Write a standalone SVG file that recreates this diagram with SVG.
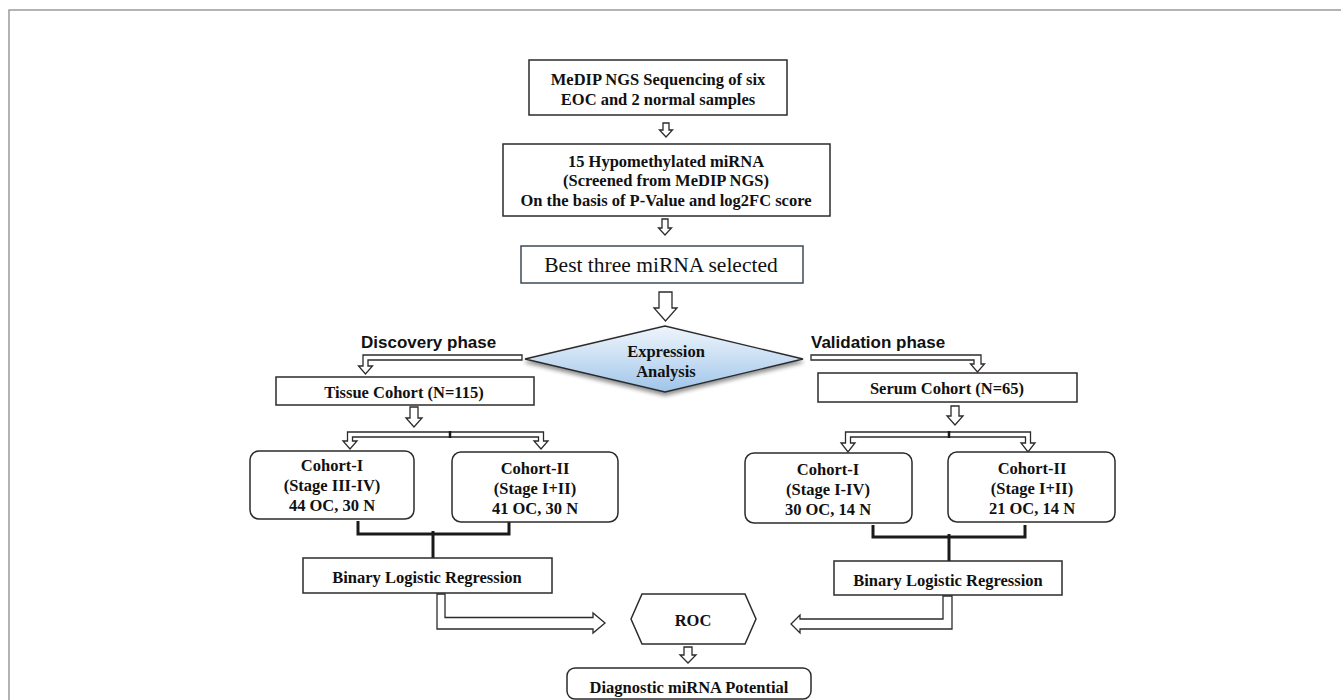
<svg xmlns="http://www.w3.org/2000/svg" width="1341" height="700" viewBox="0 0 1341 700">
<defs>
<linearGradient id="dg" x1="0" y1="0" x2="0" y2="1">
<stop offset="0" stop-color="#eef5fc"/>
<stop offset="0.5" stop-color="#c9def3"/>
<stop offset="1" stop-color="#9fc4ea"/>
</linearGradient>
<filter id="sh" x="-10%" y="-20%" width="120%" height="150%">
<feGaussianBlur in="SourceAlpha" stdDeviation="2"/>
<feOffset dx="0" dy="3" result="b"/>
<feComponentTransfer><feFuncA type="linear" slope="0.45"/></feComponentTransfer>
<feMerge><feMergeNode/><feMergeNode in="SourceGraphic"/></feMerge>
</filter>
</defs>
<style>
.box{fill:#fff;stroke:#2b2b2b;stroke-width:1.5}
.t{font-family:"Liberation Serif","Times New Roman",serif;font-weight:bold;font-size:16.5px;fill:#111;text-anchor:middle;dominant-baseline:central}
.tn{font-family:"Liberation Serif","Times New Roman",serif;font-size:21.5px;fill:#111;text-anchor:middle;dominant-baseline:central}
.lab{font-family:"Liberation Sans",Arial,sans-serif;font-weight:bold;font-size:17px;fill:#111;dominant-baseline:central}
.ha{fill:#fff;stroke:#2b2b2b;stroke-width:1.3;stroke-linejoin:miter}
.br{fill:none;stroke:#1a1a1a;stroke-width:3}
</style>
<rect x="0" y="0" width="1341" height="700" fill="#fff"/>
<path d="M9,700 L9,10 L1341,10" fill="none" stroke="#9a9a9a" stroke-width="1.5"/>

<g id="connectors">
<path class="ha" d="M663,123 L669,123 L669,130 L672.5,130 L666,137 L659.5,130 L663,130 Z"/>
<path class="ha" d="M662,219 L668,219 L668,228 L671.5,228 L665,235 L658.5,228 L662,228 Z"/>
<path class="ha" d="M659,292 L672,292 L672,308 L677,308 L665.5,321 L654,308 L659,308 Z"/>
<path class="ha" d="M522,355 L363,355 L363,366 L358.5,366 L365.5,374 L372.5,366 L368,366 L368,360 L522,360 Z"/>
<path class="ha" d="M811,355 L981,355 L981,364 L984.5,364 L977.5,372 L970.5,364 L974,364 L974,360 L811,360 Z"/>
<path class="ha" d="M410,407 L418,407 L418,418 L422,418 L414,427 L406,418 L410,418 Z"/>
<path class="ha" d="M951,406 L959,406 L959,416 L963,416 L955,425 L947,416 L951,416 Z"/>
<path class="ha" d="M347.5,432 L543.5,432 L543.5,441 L548,441 L541,449 L534,441 L538.5,441 L538.5,437 L352.5,437 L352.5,441 L357,441 L350,449 L343,441 L347.5,441 Z"/>
<line x1="450" y1="431" x2="450" y2="438" stroke="#1a1a1a" stroke-width="2.5"/>
<path class="ha" d="M845.5,432 L1030.5,432 L1030.5,443 L1035,443 L1028,452 L1021,443 L1025.5,443 L1025.5,437 L850.5,437 L850.5,443 L855,443 L848,452 L841,443 L845.5,443 Z"/>
<line x1="949" y1="431" x2="949" y2="438" stroke="#1a1a1a" stroke-width="2.5"/>
<path class="br" d="M358,521 L358,534 L509,534 L509,521"/>
<path class="br" d="M433,531 L433,558"/>
<path class="br" d="M873,525 L873,537 L1025,537 L1025,525"/>
<path class="br" d="M949,534 L949,561"/>
<path class="ha" d="M437,594 L445,594 L445,617.5 L593,617.5 L593,613 L605,623 L593,633 L593,629 L437,629 Z"/>
<path class="ha" d="M952,596 L952,629 L800,629 L800,633 L791,624 L800,615 L800,619 L943,619 L943,596 Z"/>
<path class="ha" d="M684,647 L692,647 L692,655 L696,655 L688,663 L680,655 L684,655 Z"/>
</g>

<g id="n1">
<rect class="box" x="529" y="60" width="258" height="55"/>
<text class="t" x="658" y="79">MeDIP NGS Sequencing of six</text>
<text class="t" x="658" y="99">EOC and 2 normal samples</text>
</g>
<g id="n2">
<rect class="box" x="503" y="144" width="327" height="72"/>
<text class="t" x="666" y="161">15 Hypomethylated miRNA</text>
<text class="t" x="666" y="180">(Screened from MeDIP NGS)</text>
<text class="t" x="666" y="200">On the basis of P-Value and log2FC score</text>
</g>
<g id="n3">
<rect x="521" y="246" width="282" height="37" fill="#fff" stroke="#3c4a58" stroke-width="1.5"/>
<text class="tn" x="661" y="265">Best three miRNA selected</text>
</g>
<g id="n4">
<polygon points="525,359 665,326 803,359 665,392" fill="url(#dg)" stroke="#2b2b2b" stroke-width="1.3" filter="url(#sh)"/>
<text class="t" x="666" y="351">Expression</text>
<text class="t" x="666" y="371">Analysis</text>
</g>
<g id="lbl-discovery"><text class="lab" x="361" y="342">Discovery phase</text></g>
<g id="lbl-validation"><text class="lab" x="811" y="342">Validation phase</text></g>
<g id="n5">
<rect class="box" x="276" y="377" width="258" height="28"/>
<text class="t" x="404" y="392">Tissue Cohort (N=115)</text>
</g>
<g id="n6">
<rect class="box" x="818" y="373" width="259" height="29"/>
<text class="t" x="947" y="388">Serum Cohort (N=65)</text>
</g>
<g id="n7">
<rect class="box" x="250" y="451" width="164" height="68" rx="9"/>
<text class="t" x="332" y="465">Cohort-I</text>
<text class="t" x="332" y="485">(Stage III-IV)</text>
<text class="t" x="332" y="505">44 OC, 30 N</text>
</g>
<g id="n8">
<rect class="box" x="452" y="452" width="166" height="70" rx="9"/>
<text class="t" x="535" y="468">Cohort-II</text>
<text class="t" x="535" y="488">(Stage I+II)</text>
<text class="t" x="535" y="508">41 OC, 30 N</text>
</g>
<g id="n9">
<rect class="box" x="745" y="453" width="167" height="70" rx="9"/>
<text class="t" x="828" y="469">Cohort-I</text>
<text class="t" x="828" y="489">(Stage I-IV)</text>
<text class="t" x="828" y="509">30 OC, 14 N</text>
</g>
<g id="n10">
<rect class="box" x="948" y="452" width="167" height="70" rx="9"/>
<text class="t" x="1032" y="468">Cohort-II</text>
<text class="t" x="1032" y="488">(Stage I+II)</text>
<text class="t" x="1032" y="508">21 OC, 14 N</text>
</g>
<g id="n11">
<rect class="box" x="303" y="558" width="249" height="35"/>
<text class="t" x="427" y="577">Binary Logistic Regression</text>
</g>
<g id="n12">
<rect class="box" x="834" y="561" width="228" height="34"/>
<text class="t" x="948" y="580">Binary Logistic Regression</text>
</g>
<g id="n13">
<polygon class="box" points="631,619 642,594 745,594 756,619 745,644 642,644"/>
<text class="t" x="693" y="620">ROC</text>
</g>
<g id="n14">
<rect class="box" x="567" y="668" width="244" height="31" rx="8"/>
<text class="t" x="689" y="687">Diagnostic miRNA Potential</text>
</g>
</svg>
